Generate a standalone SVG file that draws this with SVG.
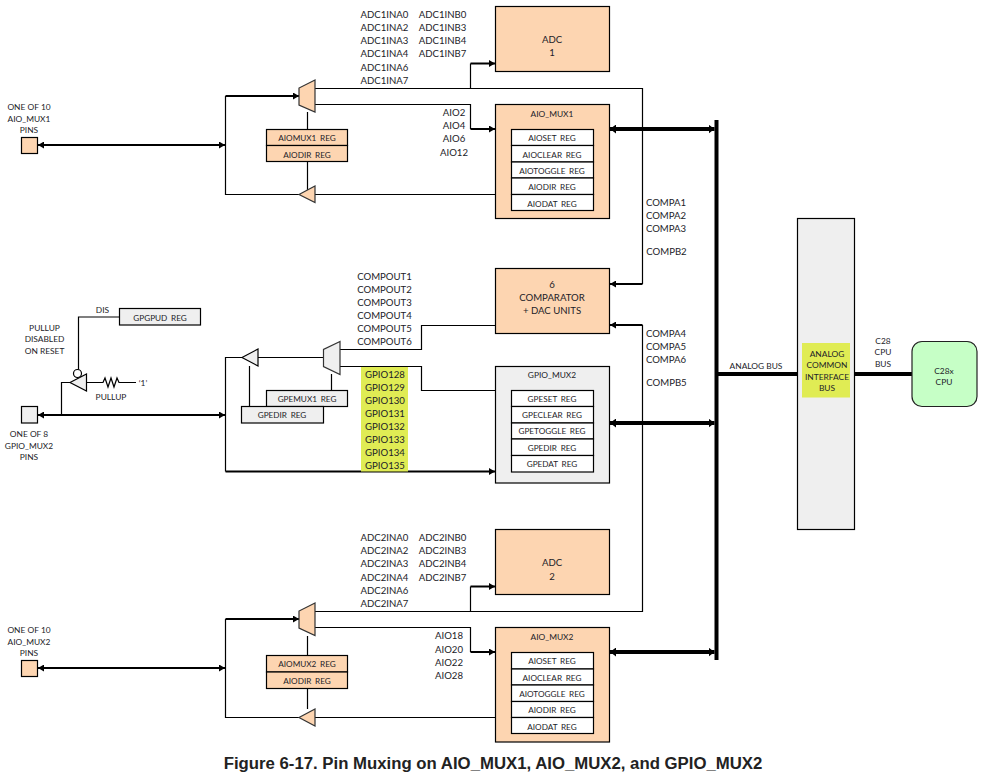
<svg xmlns="http://www.w3.org/2000/svg" width="986" height="781" viewBox="0 0 986 781">
<style>
text{font-family:"Lato","Open Sans","Liberation Sans",sans-serif;font-size:9.6px;fill:#1c1c28;text-anchor:middle;dominant-baseline:central}
.s{font-size:8.4px}
.r{font-size:8.2px;word-spacing:1.6px}
.title{font-family:"Liberation Sans",Arial,sans-serif;font-size:16.75px;font-weight:bold;fill:#222}
.o{fill:#fdd5b1;stroke:#000;stroke-width:1.2}
.g{fill:#efefef;stroke:#000;stroke-width:1.2}
.w{fill:#fff;stroke:#000;stroke-width:1.2}
.m{stroke:#333}
.n{fill:none;stroke:#000;stroke-width:1.2}
.t{fill:none;stroke:#000;stroke-width:2}
.b{fill:none;stroke:#000;stroke-width:4}
.ae{marker-end:url(#a)}
.da{marker-start:url(#a);marker-end:url(#a)}
.dbus{marker-start:url(#ab);marker-end:url(#ab)}
</style>
<defs>
<marker id="a" markerUnits="userSpaceOnUse" markerWidth="6" markerHeight="7" refX="6" refY="3.5" orient="auto-start-reverse"><path d="M0,0L6,3.5L0,7z" fill="#000"/></marker>
<marker id="ab" markerUnits="userSpaceOnUse" markerWidth="6" markerHeight="9" refX="6" refY="4.5" orient="auto-start-reverse"><path d="M0,0L6,4.5L0,9z" fill="#000"/></marker>
</defs>
<g id="connectors">
<path class="n" d="M315,88.5H642.5V284"/><path class="t ae" d="M642.5,284H610"/>
<path class="n" d="M470.5,88.5V63.5"/><path class="t ae" d="M470.5,63.5H495"/>
<path class="n" d="M315,104.5H470.5V129"/><path class="t ae" d="M470.5,129H495"/>
<path class="t ae" d="M225.5,96H299"/>
<path class="n" d="M225.5,96V194.5H299"/>
<path class="n" d="M315,194.5H495.5"/>
<path class="n" d="M307.5,112V129.5M307.5,161.5V190"/>
<path class="t da" d="M38,145H225"/>
<path class="n" d="M340,349.5H421.5V325.5H495.5"/>
<path class="n" d="M340,366.5H421.5V390.5H495.5"/>
<path class="n" d="M258,357.5H323.5"/>
<path class="n" d="M242,357.5H225.5V471.5"/>
<path class="t ae" d="M225.5,471.5H495"/>
<path class="t da" d="M38,415H225"/>
<path class="n" d="M249.5,366V406.5M331.5,374V390.5"/>
<path class="n" d="M119.5,317H78.5V369.5"/>
<path class="n" d="M70,382.5H61.5V415"/>
<path class="n" d="M86.5,382.5H103L105,378L108,387L111,378L114,387L117,378L119,382.5H136"/>
<path class="t ae" d="M642.5,325H610"/>
<path class="n" d="M642.5,325V611.5H315"/>
<path class="n" d="M470.5,611.5V586.5"/><path class="t ae" d="M470.5,586.5H495"/>
<path class="n" d="M315,627.5H470.5V652"/><path class="t ae" d="M470.5,652H495"/>
<path class="t ae" d="M225.5,619H299"/>
<path class="n" d="M225.5,619V717.5H299"/>
<path class="n" d="M315,717.5H495.5"/>
<path class="n" d="M307.5,636V655.5M307.5,688.5V709"/>
<path class="t da" d="M38,668H225"/>
<path class="b" d="M716.5,120V660"/>
<path class="b dbus" d="M610,129H714.5"/>
<path class="b dbus" d="M610,423H714.5"/>
<path class="b dbus" d="M610,652H714.5"/>
<path class="b" d="M716.5,374H797.5"/>
<path class="b" d="M855,374H912"/>
</g>
<g id="pin1"><rect class="o" x="21.5" y="137.5" width="16" height="16"/><text class="s" x="29" y="107">ONE OF 10</text><text class="s" x="29" y="119">AIO_MUX1</text><text class="s" x="29" y="130">PINS</text></g>
<g id="mux1"><path class="o m" d="M315,80L299,88V105L315,112z"/></g>
<g id="tri1"><path class="o m" d="M299,194.5L315,186V202.5z"/></g>
<g id="aiomux1reg"><rect class="o" x="266.5" y="129.5" width="81" height="16"/><rect class="o" x="266.5" y="145.5" width="81" height="16"/><text class="r" x="307" y="138">AIOMUX1 REG</text><text class="r" x="307" y="155">AIODIR REG</text></g>
<g id="adc1in">
<text x="384.5" y="14.7">ADC1INA0</text><text x="384.5" y="27.3">ADC1INA2</text><text x="384.5" y="40.7">ADC1INA3</text><text x="384.5" y="53.3">ADC1INA4</text><text x="384.5" y="67.3">ADC1INA6</text><text x="384.5" y="80.3">ADC1INA7</text>
<text x="442.5" y="14.7">ADC1INB0</text><text x="442.5" y="27.3">ADC1INB3</text><text x="442.5" y="40.7">ADC1INB4</text><text x="442.5" y="53.3">ADC1INB7</text>
<text x="454" y="112.7">AIO2</text><text x="454" y="125.7">AIO4</text><text x="454" y="138.7">AIO6</text><text x="454" y="152.3">AIO12</text>
</g>
<g id="adc1"><rect class="o" x="495.5" y="6.5" width="114" height="65"/><text x="552" y="39.5">ADC</text><text x="552" y="52.5">1</text></g>
<g id="aio_mux1"><rect class="o" x="495.5" y="104.5" width="114" height="114"/><text class="s" x="552" y="114">AIO_MUX1</text>
<rect class="w" x="511.5" y="129.5" width="82" height="16"/><rect class="w" x="511.5" y="145.5" width="82" height="16.500"/><rect class="w" x="511.5" y="162" width="82" height="16"/><rect class="w" x="511.5" y="178" width="82" height="16.500"/><rect class="w" x="511.5" y="194.500" width="82" height="16"/>
<text class="r" x="552" y="138">AIOSET REG</text><text class="r" x="552" y="155">AIOCLEAR REG</text><text class="r" x="552" y="171">AIOTOGGLE REG</text><text class="r" x="552" y="187">AIODIR REG</text><text class="r" x="552" y="204">AIODAT REG</text></g>
<g id="compa-labels"><text x="666" y="202.5">COMPA1</text><text x="666" y="215.5">COMPA2</text><text x="666" y="228.5">COMPA3</text><text x="666.500" y="251.5">COMPB2</text>
<text x="666" y="333.5">COMPA4</text><text x="666" y="346.5">COMPA5</text><text x="666" y="359.5">COMPA6</text><text x="666.500" y="382.5">COMPB5</text></g>
<g id="comparator"><rect class="o" x="495.5" y="268.5" width="114" height="65"/><text x="552" y="284.500">6</text><text x="552" y="297.5">COMPARATOR</text><text x="552" y="310.5">+ DAC UNITS</text></g>
<g id="compout"><text x="384.5" y="276.5">COMPOUT1</text><text x="384.5" y="289.5">COMPOUT2</text><text x="384.5" y="302.5">COMPOUT3</text><text x="384.5" y="315.5">COMPOUT4</text><text x="384.5" y="328.5">COMPOUT5</text><text x="384.5" y="341.5">COMPOUT6</text></g>
<g id="gpio-labels"><rect x="361" y="367" width="47" height="104.500" fill="#e0ec54"/>
<text x="385" y="374.5">GPIO128</text><text x="385" y="387.5">GPIO129</text><text x="385" y="400.5">GPIO130</text><text x="385" y="413.5">GPIO131</text><text x="385" y="426.5">GPIO132</text><text x="385" y="439.5">GPIO133</text><text x="385" y="452.5">GPIO134</text><text x="385" y="465.5">GPIO135</text></g>
<g id="gpio_mux2"><rect class="g" x="495.5" y="366.5" width="114" height="116.5"/><text class="s" x="552" y="375">GPIO_MUX2</text>
<rect class="w" x="511.5" y="390.5" width="82" height="16"/><rect class="w" x="511.5" y="406.5" width="82" height="16.500"/><rect class="w" x="511.5" y="423" width="82" height="16"/><rect class="w" x="511.5" y="439" width="82" height="16.500"/><rect class="w" x="511.5" y="455.500" width="82" height="16.500"/>
<text class="r" x="552" y="399">GPESET REG</text><text class="r" x="552" y="415">GPECLEAR REG</text><text class="r" x="552" y="431">GPETOGGLE REG</text><text class="r" x="552" y="448">GPEDIR REG</text><text class="r" x="552" y="464">GPEDAT REG</text></g>
<g id="gpgpud"><rect class="g" x="119.5" y="308.5" width="81" height="16.500"/><text class="r" x="160" y="318">GPGPUD REG</text><text class="s" x="102.500" y="310">DIS</text></g>
<g id="pullup"><path class="g" d="M70,382.5L86.5,374V391z"/><circle class="w" cx="77.500" cy="373.500" r="4"/>
<text class="s" x="44.5" y="328">PULLUP</text><text class="s" x="44.5" y="339">DISABLED</text><text class="s" x="44.5" y="351">ON RESET</text><text class="s" x="111" y="397">PULLUP</text><text class="s" x="143" y="382.5">‘1’</text></g>
<g id="pin2"><rect class="g" x="21.5" y="406.5" width="16" height="16.500"/><text class="s" x="29" y="434">ONE OF 8</text><text class="s" x="29" y="446">GPIO_MUX2</text><text class="s" x="29" y="457">PINS</text></g>
<g id="mux2"><path class="g m" d="M340,341.500L323.500,349.500V366.500L340,374.500z"/></g>
<g id="tri2"><path class="g" d="M242,357.5L258,349V366z"/></g>
<g id="gpemux1"><rect class="g" x="266.5" y="390.5" width="81" height="16"/><text class="r" x="307" y="399">GPEMUX1 REG</text></g>
<g id="gpedir"><rect class="g" x="241.5" y="406.5" width="82" height="16.500"/><text class="r" x="282" y="415">GPEDIR REG</text></g>
<g id="adc2in">
<text x="384.5" y="537.3">ADC2INA0</text><text x="384.5" y="550.3">ADC2INA2</text><text x="384.5" y="563.7">ADC2INA3</text><text x="384.5" y="577.7">ADC2INA4</text><text x="384.5" y="590.7">ADC2INA6</text><text x="384.5" y="603.7">ADC2INA7</text>
<text x="442.5" y="537.3">ADC2INB0</text><text x="442.5" y="550.3">ADC2INB3</text><text x="442.5" y="563.7">ADC2INB4</text><text x="442.5" y="577.7">ADC2INB7</text>
<text x="449" y="635.7">AIO18</text><text x="449" y="649">AIO20</text><text x="449" y="662.7">AIO22</text><text x="449" y="675.7">AIO28</text>
</g>
<g id="adc2"><rect class="o" x="495.5" y="529.5" width="114" height="65"/><text x="552" y="562.7">ADC</text><text x="552" y="576">2</text></g>
<g id="aio_mux2"><rect class="o" x="495.5" y="627.5" width="114" height="114.500"/><text class="s" x="552" y="637">AIO_MUX2</text>
<rect class="w" x="511.5" y="652.5" width="82" height="16.500"/><rect class="w" x="511.5" y="669" width="82" height="16"/><rect class="w" x="511.5" y="685" width="82" height="16.500"/><rect class="w" x="511.5" y="701.500" width="82" height="16"/><rect class="w" x="511.5" y="717.500" width="82" height="16"/>
<text class="r" x="552" y="661">AIOSET REG</text><text class="r" x="552" y="678">AIOCLEAR REG</text><text class="r" x="552" y="694">AIOTOGGLE REG</text><text class="r" x="552" y="710">AIODIR REG</text><text class="r" x="552" y="727">AIODAT REG</text></g>
<g id="mux3"><path class="o m" d="M315,603L299,611V628L315,635.5z"/></g>
<g id="tri3"><path class="o m" d="M299,717.5L315,709V726z"/></g>
<g id="aiomux2reg"><rect class="o" x="266.5" y="655.5" width="81" height="16.500"/><rect class="o" x="266.5" y="672" width="81" height="16.500"/><text class="r" x="307" y="664">AIOMUX2 REG</text><text class="r" x="307" y="681">AIODIR REG</text></g>
<g id="pin3"><rect class="o" x="21.5" y="660.5" width="16" height="16"/><text class="s" x="29" y="630">ONE OF 10</text><text class="s" x="29" y="642">AIO_MUX2</text><text class="s" x="29" y="653">PINS</text></g>
<g id="analog-bus-label"><text class="s" x="756" y="366">ANALOG BUS</text></g>
<g id="interface"><rect class="g" x="797.5" y="218.5" width="57" height="311"/><rect x="802" y="343" width="48" height="54.500" fill="#e0ec54"/><text class="s" x="827" y="354">ANALOG</text><text class="s" x="827" y="365">COMMON</text><text class="s" x="827" y="377">INTERFACE</text><text class="s" x="827" y="388">BUS</text></g>
<g id="cpu-bus-label"><text class="s" x="883" y="341">C28</text><text class="s" x="883" y="352">CPU</text><text class="s" x="883" y="364">BUS</text></g>
<g id="cpu"><rect x="912" y="341.5" width="65" height="65" rx="10" fill="#c6ffc6" stroke="#222" stroke-width="1.2"/><text class="s" x="944" y="371">C28x</text><text class="s" x="944" y="382">CPU</text></g>
<text class="title" x="493" y="763">Figure 6-17. Pin Muxing on AIO_MUX1, AIO_MUX2, and GPIO_MUX2</text>
</svg>
